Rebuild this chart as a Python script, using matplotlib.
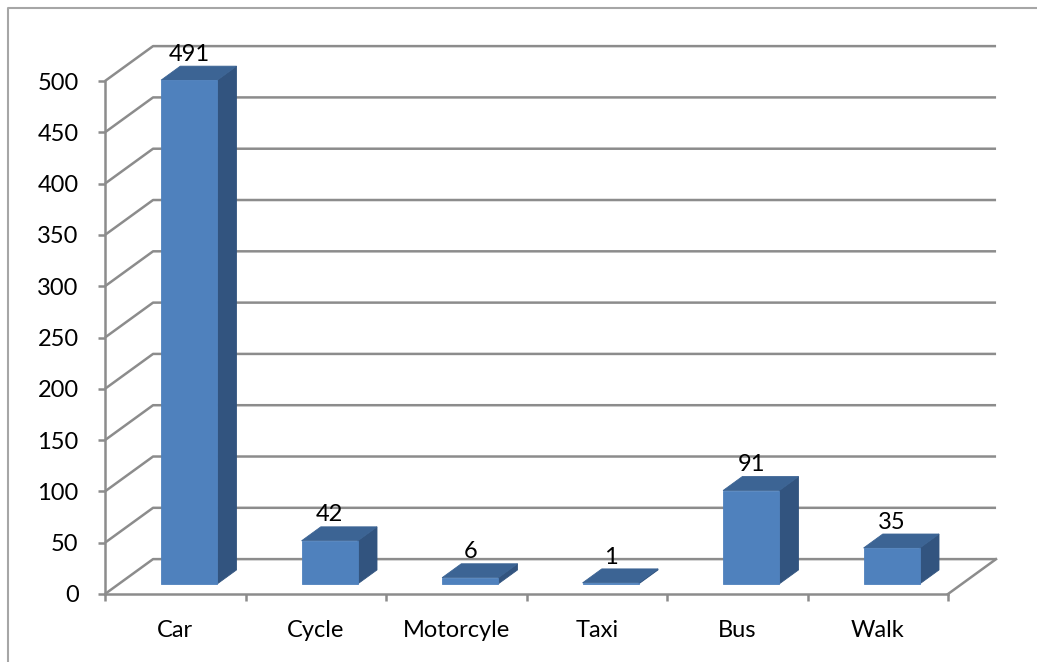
import matplotlib.pyplot as plt
from matplotlib.patches import Polygon
from matplotlib.lines import Line2D

categories = ["Car", "Cycle", "Motorcyle", "Taxi", "Bus", "Walk"]
values = [491, 42, 6, 1, 91, 35]
y_ticks = list(range(0, 501, 50))

plt.rcParams['font.family'] = ['Lato', 'DejaVu Sans']

# fake 3d: back wall offset in data units
dx, dy = 0.342, 34.0
f0, f1 = 0.29, 0.69       # bar depth (fraction of floor depth)
bar_w = 0.4
grid_c = '#8c8c8c'
front_c, top_c, side_c = '#4f81bd', '#3c6494', '#32547f'
fs = 17

W, H = 1037, 662
fig = plt.figure(figsize=(W / 100, H / 100), dpi=100)
px_per_x, px_per_y = 140.5, 1.026
xmax, ymax = 6.6, 545
ax = fig.add_axes([105 / W, 68 / H, xmax * px_per_x / W, ymax * px_per_y / H])
ax.set_xlim(0, xmax)
ax.set_ylim(0, ymax)

# outer frame
fig.add_artist(Line2D([8 / W, 8 / W, 1.0], [-0.01, 1 - 8 / H, 1 - 8 / H],
                      transform=fig.transFigure, color='#a6a6a6', lw=1.5))

n = len(categories)
# back wall gridlines + side diagonals
for v in y_ticks:
    ax.plot([0, dx, n + dx], [v, v + dy, v + dy], color=grid_c, lw=1.8,
            clip_on=False, zorder=1, solid_capstyle='butt')
# floor right edge
ax.plot([n, n + dx], [0, dy], color=grid_c, lw=1.8, clip_on=False, zorder=1)

# bars
for i, v in enumerate(values):
    x0 = i + 0.5 - bar_w / 2 + f0 * dx
    x1 = x0 + bar_w
    y0 = f0 * dy
    y1 = v + y0
    ddx, ddy = (f1 - f0) * dx, (f1 - f0) * dy
    side = [(x1, y0), (x1 + ddx, y0 + ddy), (x1 + ddx, y1 + ddy), (x1, y1)]
    top = [(x0, y1), (x1, y1), (x1 + ddx, y1 + ddy), (x0 + ddx, y1 + ddy)]
    front = [(x0, y0), (x1, y0), (x1, y1), (x0, y1)]
    for pts, c in [(side, side_c), (top, top_c), (front, front_c)]:
        ax.add_patch(Polygon(pts, closed=True, facecolor=c, edgecolor=c,
                             lw=0.6, zorder=3))
    ax.annotate(str(v), ((x0 + x1) / 2, y1 + ddy), xytext=(0, 1),
                textcoords='offset points', ha='center', va='bottom',
                fontsize=fs, zorder=4)

# axes
for s in ['top', 'right']:
    ax.spines[s].set_visible(False)
for s in ['left', 'bottom']:
    ax.spines[s].set_color(grid_c)
    ax.spines[s].set_linewidth(1.8)
    ax.spines[s].set_zorder(2)
ax.spines['left'].set_bounds(0, 500)
ax.spines['bottom'].set_bounds(0, n)

ax.set_yticks(y_ticks)
ax.tick_params(axis='y', direction='out', length=5, width=1.8, color=grid_c,
               pad=14, labelsize=fs)
ax.set_xticks(range(n + 1))
ax.set_xticklabels([])
ax.tick_params(axis='x', which='major', direction='out', length=5, width=1.8,
               color=grid_c)
ax.set_xticks([i + 0.5 for i in range(n)], minor=True)
ax.set_xticklabels(categories, minor=True)
ax.tick_params(axis='x', which='minor', length=0, pad=19, labelsize=fs)

fig.savefig('out.png', dpi=100)
